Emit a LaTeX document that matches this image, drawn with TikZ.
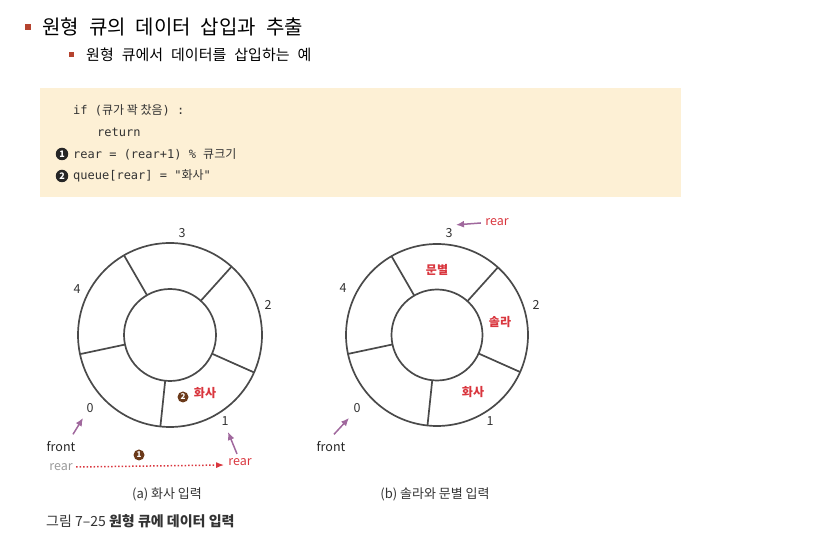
\documentclass[tikz,border=0pt]{standalone}
\usepackage{fontspec}
\setmainfont{Noto Sans CJK KR}
\newfontfamily\krfont{Noto Sans CJK KR}
\newfontfamily\codefont{DejaVu Sans Mono}
\usetikzlibrary{arrows.meta, positioning}

\definecolor{bulletred}{HTML}{B5432F}
\definecolor{boxfill}{HTML}{FDF0D5}
\definecolor{itemred}{HTML}{D9363E}
\definecolor{ptrpurple}{HTML}{A0689D}
\definecolor{stepbrown}{HTML}{6B3A1A}
\definecolor{ringgray}{HTML}{4A4A4A}

\newcommand\kr[1]{{\krfont\fontsize{12}{14}\selectfont #1}}
\newcommand\headfont{\fontsize{20}{24}\selectfont\spaceskip=10pt\relax}
\newcommand\subheadfont{\fontsize{15}{18}\selectfont\spaceskip=8pt\relax}

\tikzset{
  ring/.style = {circle, draw = ringgray, line width = 1.7pt, outer sep = 0pt, inner sep = 0pt},
  divider/.style = {ringgray, line width = 1.7pt},
  slotnum/.style = {font = \fontsize{12.5}{14}\selectfont, text = black!80},
  item/.style = {font = \fontsize{12}{14}\selectfont\bfseries, text = itemred},
  ptr/.style = {font = \fontsize{12.5}{14}\selectfont, text = black!85},
  ptrarrow/.style = {draw = ptrpurple, line width = 1.5pt, -{Latex[length=8pt, width=7pt]}},
  stepmark/.style = {circle, fill = #1, text = white, inner sep = 0pt, minimum size = 12.5pt,
    font = \fontsize{9}{10}\selectfont\bfseries},
  stepmark/.default = stepbrown,
  codeline/.style = {anchor = west, font = \fontsize{12}{14}\selectfont\codefont, text = black!80, inner sep = 0pt},
  caption/.style = {font = \fontsize{13}{15}\selectfont, text = black!80}
}

\begin{document}
\begin{tikzpicture}[x = 1pt, y = -1pt]
  \useasboundingbox (0, 0) rectangle (823, 553);

  % heading
  \fill[bulletred] (25, 24) rectangle (31, 30);
  \node[anchor = west, inner sep = 0pt, font = \headfont] (title) at (42, 27) {원형 큐의 데이터 삽입과 추출};
  \fill[bulletred] (69, 52) rectangle (74, 57);
  \node[anchor = west, inner sep = 0pt, font = \subheadfont] (subtitle) at (86, 55) {원형 큐에서 데이터를 삽입하는 예};

  % code box
  \fill[boxfill] (40, 88) rectangle (681, 197);
  \node[codeline] (code1) at (73, 110) {if (\kr{큐가 꽉 찼음}) :};
  \node[codeline] (code2) at (97, 132) {return};
  \node[stepmark = black!85] (code3num) at (62, 154) {1};
  \node[codeline] (code3) at (73, 154) {rear = (rear+1) \% \kr{큐크기}};
  \node[stepmark = black!85] (code4num) at (62, 176) {2};
  \node[codeline] (code4) at (73, 176) {queue[rear] = "\kr{화사}"};

  % (a) queue after inserting one item
  \node[ring, minimum size = 184pt] (outA) at (170, 335) {};
  \node[ring, minimum size = 92pt] (inA) at (170, 335) {};
  \foreach \ang in {48, 120, 192, 264, 336}
    \draw[divider] (inA.\ang) -- (outA.\ang);

  \node[slotnum] (a3) at (182, 233) {3};
  \node[slotnum] (a2) at (268, 305) {2};
  \node[slotnum] (a4) at (77, 289) {4};
  \node[slotnum] (a0) at (90, 408) {0};
  \node[slotnum] (a1) at (225, 421) {1};

  \node[item] (aitem1) at (205, 393) {화사};
  \node[stepmark, minimum size = 11pt, font = \fontsize{8}{9}\selectfont\bfseries] (astep2) at (183, 397) {2};

  \node[ptr] (afront) at (61, 447) {front};
  \coordinate (afronttip) at (83, 418);
  \draw[ptrarrow] (afront.north) ++(12, -4) -- (afronttip);

  \node[ptr, text = black!40] (aoldrear) at (61, 467) {rear};
  \node[ptr, text = itemred] (anewrear) at (240, 462) {rear};
  \draw[itemred, line width = 1.5pt, dotted, -{Latex[length=8pt, width=6pt]}] (aoldrear.east) -- ++(148, -2) coordinate (arearend);
  \node[stepmark, minimum size = 11pt, font = \fontsize{8}{9}\selectfont\bfseries] (astep1) at (139, 455) {1};
  \coordinate (areartip) at (228, 432);
  \draw[ptrarrow] (anewrear.north) ++(-3, -1) -- (areartip);

  \node[caption] (capA) at (167, 494) {(a) 화사 입력};

  % (b) queue after two more items
  \node[ring, minimum size = 182pt] (outB) at (437, 335) {};
  \node[ring, minimum size = 91pt] (inB) at (437, 335) {};
  \foreach \ang in {48, 120, 192, 264, 336}
    \draw[divider] (inB.\ang) -- (outB.\ang);

  \node[slotnum] (b3) at (449, 233) {3};
  \node[slotnum] (b2) at (536, 305) {2};
  \node[slotnum] (b4) at (343, 288) {4};
  \node[slotnum] (b0) at (357, 408) {0};
  \node[slotnum] (b1) at (490, 421) {1};

  \node[item] (bitem3) at (437, 270) {문별};
  \node[item] (bitem2) at (500, 322) {솔라};
  \node[item] (bitem1) at (473, 392) {화사};

  \node[ptr, text = itemred] (brear) at (497, 222) {rear};
  \draw[ptrarrow] (brear.west) ++(-1, 1) -- (b3.north east);
  \node[ptr] (bfront) at (331, 447) {front};
  \coordinate (bfronttip) at (349, 418);
  \draw[ptrarrow] (bfront.north) ++(3, -4) -- (bfronttip);

  \node[caption] (capB) at (435, 494) {(b) 솔라와 문별 입력};

  % figure caption
  \node[anchor = west, inner sep = 0pt, font = \fontsize{14}{16}\selectfont, text = black!80] (figcap) at (46, 521) {그림 7–25 \textbf{원형 큐에 데이터 입력}};
\end{tikzpicture}
\end{document}
